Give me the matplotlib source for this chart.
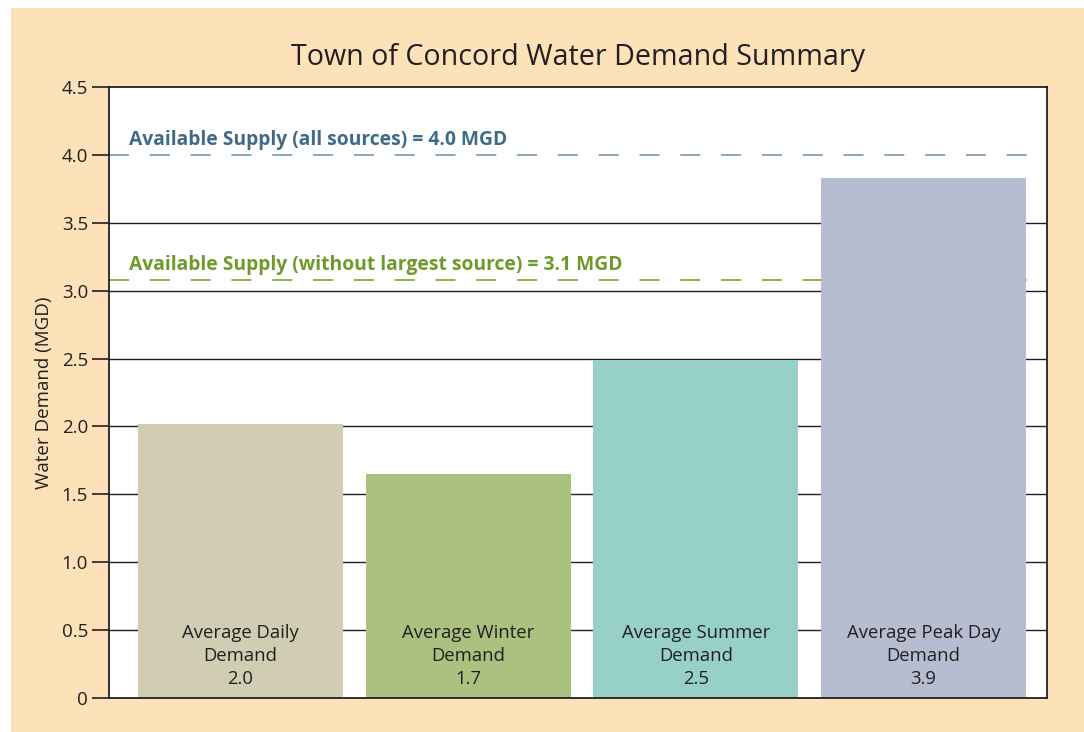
import matplotlib
matplotlib.use("Agg")
import matplotlib.pyplot as plt
from matplotlib.patches import Rectangle
from matplotlib.ticker import FuncFormatter

categories = ["Average Daily\nDemand", "Average Winter\nDemand", "Average Summer\nDemand", "Average Peak Day\nDemand"]
values = [2.02, 1.65, 2.49, 3.83]
value_labels = ["2.0", "1.7", "2.5", "3.9"]
bar_colors = ["#D1CDB3", "#ABC17F", "#96D0C8", "#B7BDD1"]
supply_values = [4.0, 3.08]
supply_labels = ["Available Supply (all sources) = 4.0 MGD",
                 "Available Supply (without largest source) = 3.1 MGD"]
supply_colors = ["#7FA0B2", "#8AAA3A"]
supply_text_colors = ["#3F6B88", "#6E9A2A"]
yticks = [0, 0.5, 1.0, 1.5, 2.0, 2.5, 3.0, 3.5, 4.0, 4.5]

FONT = "Open Sans"
TXT = "#231F20"

fig = plt.figure(figsize=(10.84, 7.32), dpi=100)
fig.patch.set_facecolor("white")
fig.patches.append(Rectangle((11 / 1084, 0), 1 - 11 / 1084, 1 - 8 / 732,
                             transform=fig.transFigure, facecolor="#FDE1B9",
                             edgecolor="none", zorder=-10))

ax = fig.add_axes([109 / 1084, 34 / 732, (1047 - 109) / 1084, (698 - 87) / 732])
ax.set_zorder(1)
ax.set_facecolor("white")

x = list(range(len(categories)))

# gridlines (the 4.0 line is replaced by the supply dashed line)
for yt in yticks[1:-1]:
    if yt not in supply_values:
        ax.axhline(yt, color="#231F20", lw=1.0, zorder=1)

ax.bar(x, values, width=0.90, color=bar_colors, zorder=3)

for xi, cat, vl in zip(x, categories, value_labels):
    ax.text(xi, 0.07, cat + "\n" + vl, ha="center", va="bottom", fontsize=13.3,
            family=FONT, color=TXT, linespacing=1.38, zorder=4)

for yv, lab, c, tc in zip(supply_values, supply_labels, supply_colors, supply_text_colors):
    ax.axhline(yv, color=c, lw=1.3, dashes=(11.1, 11.5), zorder=2)
    ax.text(-0.49, yv + 0.035, lab, ha="left", va="bottom", fontsize=13.9,
            fontweight="bold", family=FONT, color=tc, zorder=4)

ax.set_xlim(-0.578, 3.542)
ax.set_ylim(0, 4.5)
ax.set_yticks(yticks)
ax.yaxis.set_major_formatter(FuncFormatter(lambda v, p: "0" if v == 0 else f"{v:.1f}"))
ax.set_xticks([])
for s in ax.spines.values():
    s.set_color("#231F20")
    s.set_linewidth(1.3)
    s.set_zorder(5)
ax.tick_params(axis="y", length=12, width=1.2, color="#231F20", labelsize=13.5,
               labelcolor=TXT, pad=3)
for lbl in ax.get_yticklabels():
    lbl.set_family(FONT)

ax.set_ylabel("Water Demand (MGD)", fontsize=13.5, family=FONT, color=TXT, labelpad=6)
fig.text((109 + 1047) / 2 / 1084, 1 - 58 / 732, "Town of Concord Water Demand Summary",
         ha="center", va="center", fontsize=20.6, family=FONT, color=TXT)

fig.savefig("out.png", dpi=100, facecolor=fig.get_facecolor())
